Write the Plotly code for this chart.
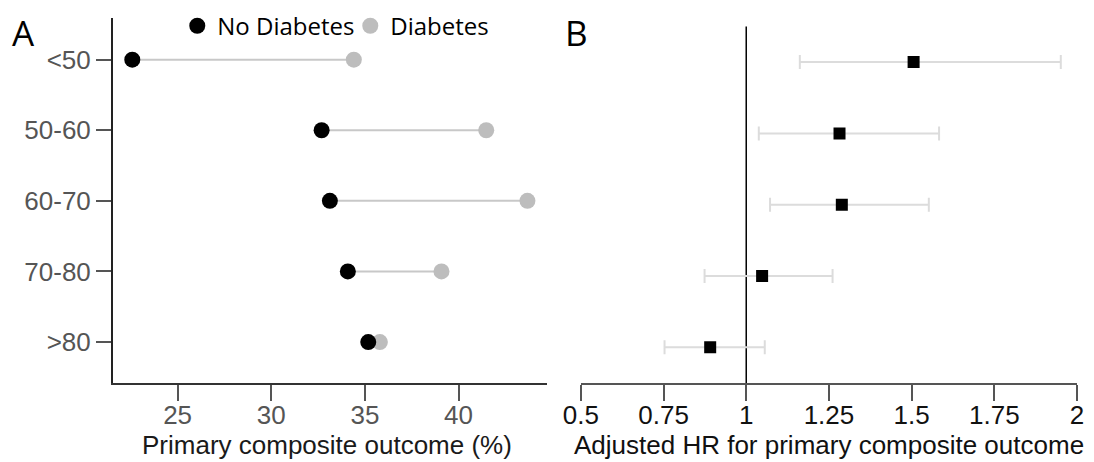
import plotly.graph_objects as go

# ---------------- data ----------------
age_groups = ["<50", "50-60", "60-70", "70-80", ">80"]
no_diabetes = [22.58, 32.69, 33.13, 34.09, 35.18]
diabetes = [34.41, 41.48, 43.68, 39.09, 35.80]

hr = [1.506, 1.282, 1.289, 1.048, 0.891]
hr_low = [1.162, 1.038, 1.072, 0.874, 0.753]
hr_high = [1.951, 1.583, 1.552, 1.261, 1.056]

a_xticks = [25, 30, 35, 40]
b_xticks = [0.5, 0.75, 1, 1.25, 1.5, 1.75, 2]
b_xticklabels = ["0.5", "0.75", "1", "1.25", "1.5", "1.75", "2"]

a_title = "Primary composite outcome (%)"
b_title = "Adjusted HR for primary composite outcome"

# page body has an 8px default margin; lay out in screen pixels minus that offset
OFF = 8
W, H = 1094 - OFF, 462 - OFF
LEFT, RIGHT, TOP, BOTTOM = 112.7, 1077.0, 18.3, 382.7   # screen px of plot area
ML, MT = LEFT - OFF, TOP - OFF
MR, MB = W - (RIGHT - OFF), H - (BOTTOM - OFF)
IW, IH = W - ML - MR, H - MT - MB


def px(x):
    return (x - OFF - ML) / IW


def py(y):
    return 1 - (y - OFF - MT) / IH


TICKFONT = "Liberation Sans, Arial, sans-serif"
LABFONT = "Open Sans, sans-serif"

fig = go.Figure()

# connecting segments (panel A)
seg_x, seg_y = [], []
for g, a, b in zip(age_groups, no_diabetes, diabetes):
    seg_x += [a, b, None]
    seg_y += [g, g, None]
fig.add_trace(go.Scatter(x=seg_x, y=seg_y, mode="lines",
                         line=dict(color="#c8c8c8", width=2),
                         showlegend=False, hoverinfo="skip",
                         xaxis="x", yaxis="y"))
fig.add_trace(go.Scatter(x=diabetes, y=age_groups, mode="markers",
                         marker=dict(color="#bdbdbd", size=16),
                         name="Diabetes", xaxis="x", yaxis="y"))
fig.add_trace(go.Scatter(x=no_diabetes, y=age_groups, mode="markers",
                         marker=dict(color="#000000", size=16),
                         name="No Diabetes", xaxis="x", yaxis="y"))

# panel B forest plot
err_plus = [h - m for h, m in zip(hr_high, hr)]
err_minus = [m - l for m, l in zip(hr, hr_low)]
fig.add_trace(go.Scatter(x=hr, y=age_groups, mode="markers",
                         marker=dict(color="#000000", size=12, symbol="square"),
                         error_x=dict(type="data", symmetric=False,
                                      array=err_plus, arrayminus=err_minus,
                                      color="#dcdcdc", thickness=2, width=7),
                         showlegend=False, xaxis="x2", yaxis="y2"))

fig.add_shape(type="line", xref="x2", yref="y2 domain", x0=1, x1=1, y0=0, y1=1,
              line=dict(color="#000000", width=1.5), layer="below")

fig.update_layout(
    width=W, height=H,
    margin=dict(l=ML, r=MR, t=MT, b=MB, autoexpand=False),
    paper_bgcolor="white", plot_bgcolor="white",
    showlegend=True,
    legend=dict(orientation="h", x=px(177), y=py(4), xanchor="left", yanchor="top",
                font=dict(family=LABFONT, size=24, color="#000000"),
                traceorder="reversed", itemsizing="trace",
                bgcolor="rgba(0,0,0,0)", entrywidth=128),
    xaxis=dict(domain=[0, px(547.3)], range=[21.55, 44.75],
               tickvals=a_xticks, ticks="outside", ticklen=16, tickwidth=2,
               tickcolor="#555555", showline=True, linecolor="#333333", linewidth=2,
               showgrid=False, zeroline=False, automargin=False,
               ticklabelstandoff=-8,
               tickfont=dict(family=TICKFONT, size=26, color="#555555"),
               anchor="y"),
    yaxis=dict(domain=[0, 1], type="category",
               categoryorder="array", categoryarray=age_groups,
               range=[4.58, -0.59], ticks="outside", ticklen=15, tickwidth=2,
               tickcolor="#555555", showline=True, linecolor="#222222", linewidth=2,
               showgrid=False, zeroline=False, automargin=False,
               tickfont=dict(family=TICKFONT, size=26, color="#555555"),
               anchor="x"),
    xaxis2=dict(domain=[px(580.7), 1], range=[0.5, 2],
                tickvals=b_xticks, ticktext=b_xticklabels,
                ticks="outside", ticklen=16, tickwidth=2,
                tickcolor="#555555", showline=True, linecolor="#555555", linewidth=2,
                showgrid=False, zeroline=False, automargin=False,
                ticklabelstandoff=-8,
                tickfont=dict(family=TICKFONT, size=26, color="#111111"),
                anchor="y2"),
    yaxis2=dict(domain=[0, py(26.7)], type="category",
                categoryorder="array", categoryarray=age_groups,
                range=[4.5, -0.5], showticklabels=False, ticks="",
                showline=False, showgrid=False, zeroline=False, automargin=False,
                anchor="x2"),
    annotations=[
        dict(text="A", xref="paper", yref="paper", x=px(10), y=py(7),
             xanchor="left", yanchor="top", showarrow=False,
             font=dict(family=LABFONT, size=35, color="#000000")),
        dict(text="B", xref="paper", yref="paper", x=px(563), y=py(7),
             xanchor="left", yanchor="top", showarrow=False,
             font=dict(family=LABFONT, size=35, color="#000000")),
        dict(text=a_title, xref="paper", yref="paper", x=px(326.5), y=py(445),
             xanchor="center", yanchor="middle", showarrow=False,
             font=dict(family=TICKFONT, size=26, color="#1a1a1a")),
        dict(text=b_title, xref="paper", yref="paper", x=px(829), y=py(445),
             xanchor="center", yanchor="middle", showarrow=False,
             font=dict(family=TICKFONT, size=26, color="#111111")),
    ],
)

fig.write_html("out.html")
